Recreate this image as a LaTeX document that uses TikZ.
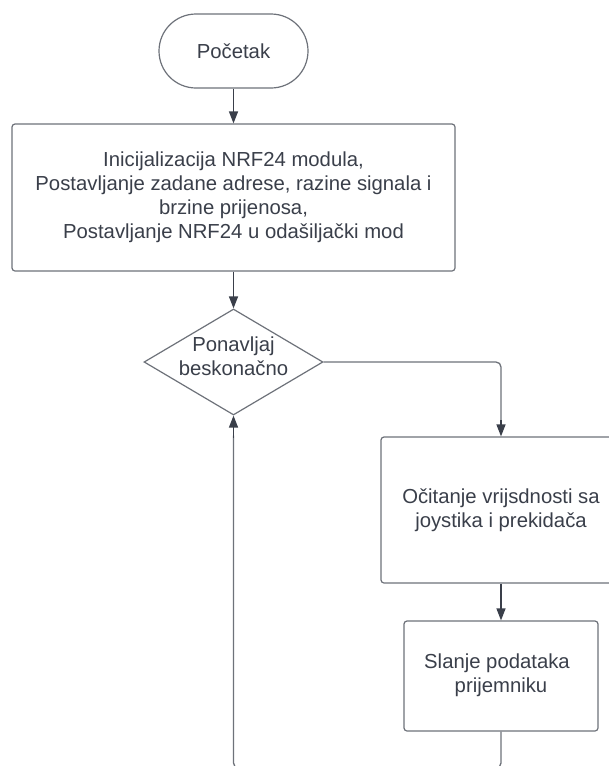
\documentclass[tikz,border=0pt]{standalone}
\usepackage{fontspec}
\setmainfont{Liberation Sans}
\usetikzlibrary{shapes.geometric,arrows.meta}
\definecolor{txt}{HTML}{3A3F4A}
\definecolor{edge}{HTML}{6E727A}
\definecolor{arr}{HTML}{3A3F4A}
\tikzset{
  x=1pt,y=-1pt,
  every node/.style={font=\fontsize{20.3}{24}\selectfont, text=txt, align=center, inner sep=0pt},
  procbox/.style={draw=edge, line width=1.2pt, rounded corners=3pt, fill=white},
  termbox/.style={draw=edge, line width=1.2pt, rounded corners=37pt, fill=white},
  decbox/.style={draw=edge, line width=1.2pt, shape=diamond, fill=white},
  flow/.style={draw=arr, line width=1.3pt, -{Triangle[length=12pt,width=9pt]}},
  flowplain/.style={draw=edge, line width=1.3pt, rounded corners=5pt},
}
\begin{document}
\begin{tikzpicture}
\useasboundingbox (0,0) rectangle (609,766);
\clip (0,0) rectangle (609,766);
\fill[white] (0,0) rectangle (609,766);

\node[termbox, minimum width=149pt, minimum height=74pt] (start) at (233.5,51) {Početak};

\node[procbox, minimum width=443pt, minimum height=147pt] (init) at (233.5,197.5)
  {Inicijalizacija NRF24 modula,\\Postavljanje zadane adrese, razine signala i\\brzine prijenosa,\\Postavljanje NRF24 u odašiljački mod};

\node[decbox, minimum width=179pt, minimum height=106pt, aspect=1.69] (loop) at (233.5,362) {};
\node (looptxt) at (233.5,356) {Ponavljaj\\beskonačno};

\node[procbox, minimum width=240pt, minimum height=146pt] (read) at (501,510)
  {Očitanje vrijsdnosti sa\\joystika i prekidača};

\node[procbox, minimum width=194pt, minimum height=110pt] (send) at (501,676) {};
\node (sendtxt) at (497,675) {Slanje podataka\\\hspace*{8pt}prijemniku};

\coordinate (c1) at (501,362);
\coordinate (c2) at (501,768);
\coordinate (c3) at (233.5,768);

\draw[flow] (start.south) -- (init.north);
\draw[flow] (init.south) -- (loop.north);
\draw[flowplain] (loop.east) -- (c1) -- ([yshift=14pt]read.north);
\draw[flow] ([yshift=16pt]read.north) -- (read.north);
\draw[flow] (read.south) -- (send.north);
\draw[flowplain] (send.south) -- (c2) -- (c3) -- ([yshift=-20pt]loop.south);
\draw[flow] ([yshift=-22pt]loop.south) -- (loop.south);
\end{tikzpicture}
\end{document}
